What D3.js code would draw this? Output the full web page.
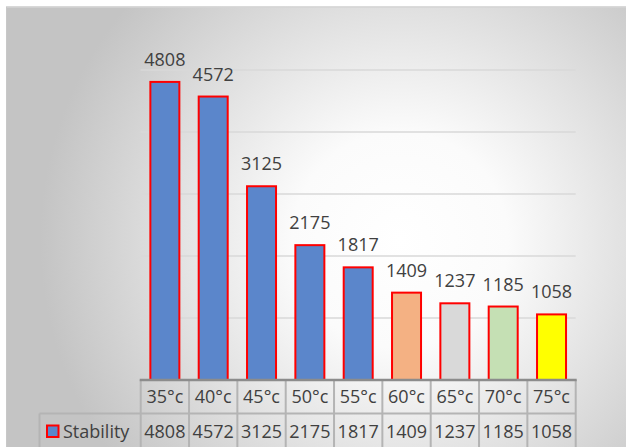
<!DOCTYPE html>
<html>
<head>
<meta charset="utf-8">
<script src="https://cdn.jsdelivr.net/npm/d3@7"></script>
<style>
  html, body { margin: 0; padding: 0; background: #ffffff; }
  svg { display: block; }
  text { font-family: "Open Sans", "Noto Sans", sans-serif; fill: #404040; }
</style>
</head>
<body>
<svg id="chart" width="626" height="447"></svg>
<script>
// Stability measured at each temperature
const categories = ["35°c", "40°c", "45°c", "50°c", "55°c", "60°c", "65°c", "70°c", "75°c"];
const stability = [4808, 4572, 3125, 2175, 1817, 1409, 1237, 1185, 1058];
const barColors = ["#5b86cb", "#5b86cb", "#5b86cb", "#5b86cb", "#5b86cb", "#f4b183", "#d9d9d9", "#c5e0b4", "#ffff00"];
const gridValues = [1000, 2000, 3000, 4000, 5000];
const seriesName = "Stability";

const W = 626, H = 447;
const svg = d3.select("#chart");

// radial backdrop
const defs = svg.append("defs");
const grad = defs.append("radialGradient")
  .attr("id", "bg")
  .attr("gradientUnits", "userSpaceOnUse")
  .attr("cx", 400).attr("cy", 240).attr("r", 360);
grad.append("stop").attr("offset", "0").attr("stop-color", "#ffffff");
grad.append("stop").attr("offset", "0.3").attr("stop-color", "#fbfbfb");
grad.append("stop").attr("offset", "1").attr("stop-color", "#c4c4c4");

svg.append("rect")
  .attr("x", 6).attr("y", 6.5).attr("width", W - 6).attr("height", H - 6.5)
  .attr("fill", "url(#bg)");
svg.append("line")
  .attr("x1", 6).attr("x2", W).attr("y1", 7).attr("y2", 7)
  .attr("stroke", "#d4d4d4").attr("stroke-width", 1.5);
svg.append("line")
  .attr("x1", 6.5).attr("x2", 6.5).attr("y1", 7).attr("y2", H)
  .attr("stroke", "#c8c8c8").attr("stroke-width", 1);

const plotLeft = 140.7, plotRight = 575.7, plotTop = 70, plotBottom = 380;

const x = d3.scaleBand()
  .domain(categories)
  .range([plotLeft, plotRight])
  .paddingInner(0.4)
  .paddingOuter(0.2);

const y = d3.scaleLinear()
  .domain([0, 5000])
  .range([plotBottom, plotTop]);

// horizontal gridlines
svg.append("g")
  .selectAll("line")
  .data(gridValues)
  .join("line")
  .attr("x1", plotLeft).attr("x2", plotRight)
  .attr("y1", d => y(d)).attr("y2", d => y(d))
  .attr("stroke", "#d9d9d9").attr("stroke-width", 1.5);

// bars
svg.append("g")
  .selectAll("rect")
  .data(stability)
  .join("rect")
  .attr("x", (d, i) => x(categories[i]))
  .attr("y", d => y(d))
  .attr("width", x.bandwidth())
  .attr("height", d => y(0) - y(d))
  .attr("fill", (d, i) => barColors[i])
  .attr("stroke", "#ff0000")
  .attr("stroke-width", 2);

// value labels
svg.append("g")
  .selectAll("text")
  .data(stability)
  .join("text")
  .attr("x", (d, i) => x(categories[i]) + x.bandwidth() / 2)
  .attr("y", d => y(d) - 16)
  .attr("text-anchor", "middle")
  .attr("font-size", 18)
  .text(d => d);

// data table under the axis
const step = x.step();
const row1Top = plotBottom, row2Top = 413.5, tableBottom = H;
const legendLeft = 39.5;
const colEdges = categories.map((c, i) => plotLeft + i * step).concat([plotRight]);

const table = svg.append("g");
// vertical rules
table.selectAll("line.v")
  .data(colEdges)
  .join("line")
  .attr("class", "v")
  .attr("x1", d => d).attr("x2", d => d)
  .attr("y1", row1Top).attr("y2", tableBottom)
  .attr("stroke", "#b4b4b4").attr("stroke-width", 2);
// row divider and legend cell borders
table.append("line")
  .attr("x1", legendLeft).attr("x2", plotRight)
  .attr("y1", row2Top).attr("y2", row2Top)
  .attr("stroke", "#b4b4b4").attr("stroke-width", 2);
table.append("line")
  .attr("x1", legendLeft).attr("x2", legendLeft)
  .attr("y1", row2Top).attr("y2", tableBottom)
  .attr("stroke", "#b4b4b4").attr("stroke-width", 2);
// axis line on top of the table
table.append("line")
  .attr("x1", plotLeft - 1).attr("x2", plotRight + 1)
  .attr("y1", row1Top).attr("y2", row1Top)
  .attr("stroke", "#8c8c8c").attr("stroke-width", 2.5);

// category row
table.selectAll("text.cat")
  .data(categories)
  .join("text")
  .attr("class", "cat")
  .attr("x", d => x(d) + x.bandwidth() / 2)
  .attr("y", (row1Top + row2Top) / 2 + 6.5)
  .attr("text-anchor", "middle")
  .attr("font-size", 18)
  .text(d => d);

// value row
table.selectAll("text.val")
  .data(stability)
  .join("text")
  .attr("class", "val")
  .attr("x", (d, i) => x(categories[i]) + x.bandwidth() / 2)
  .attr("y", 438)
  .attr("text-anchor", "middle")
  .attr("font-size", 18)
  .text(d => d);

// legend key and series name
table.append("rect")
  .attr("x", 47).attr("y", 425.5).attr("width", 11.5).attr("height", 11.5)
  .attr("fill", barColors[0]).attr("stroke", "#ff0000").attr("stroke-width", 2);
table.append("text")
  .attr("x", 63).attr("y", 438)
  .attr("font-size", 18)
  .text(seriesName);
</script>
</body>
</html>
